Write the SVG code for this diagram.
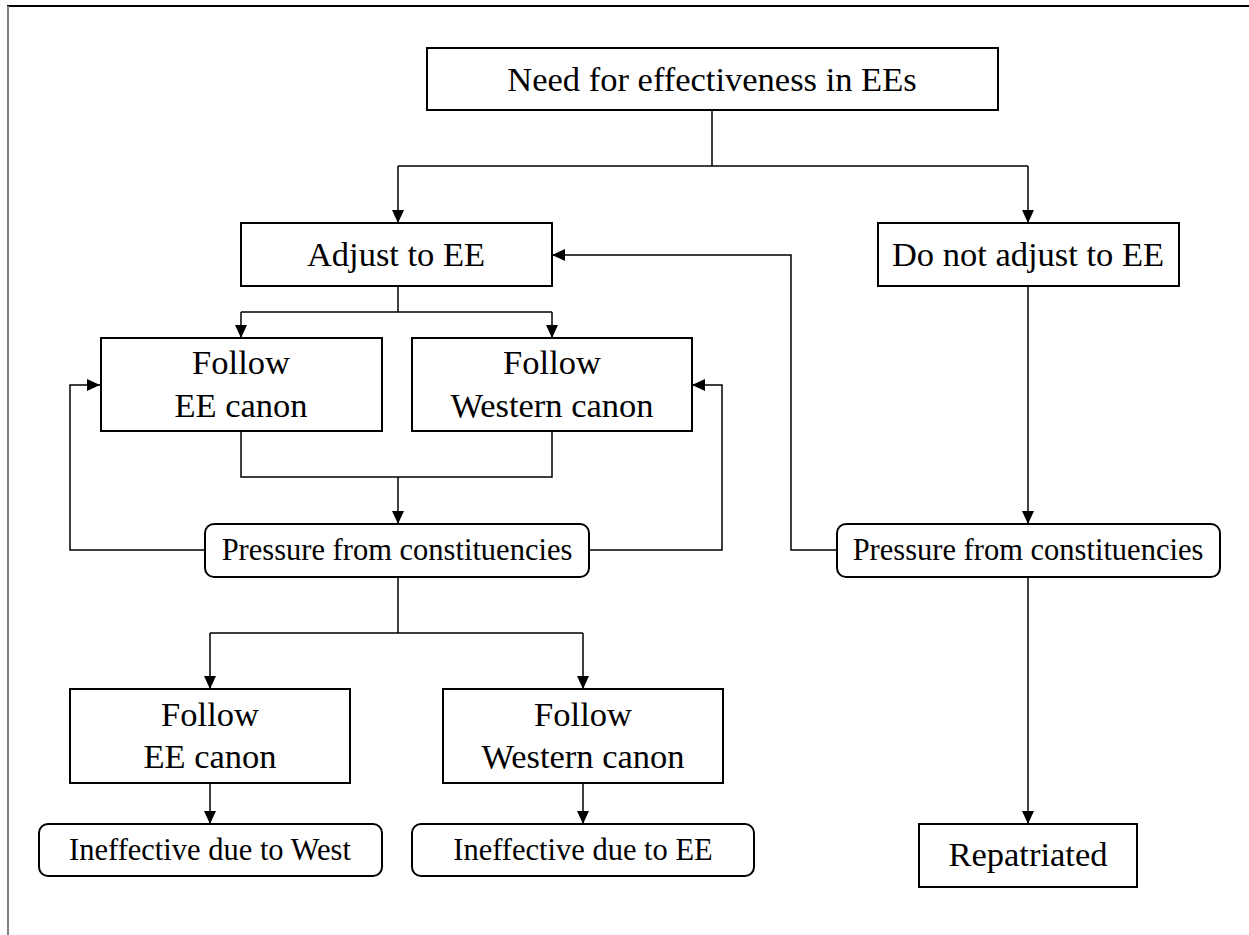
<svg xmlns="http://www.w3.org/2000/svg" width="1249" height="935" viewBox="0 0 1249 935" font-family="Liberation Serif, Times New Roman, serif">
<style>
.box{fill:#fff;stroke:#000;stroke-width:2}
.t{fill:#000;text-anchor:middle}
.big{font-size:34.5px}
.small{font-size:30.5px}
.c{fill:none;stroke:#000;stroke-width:1.5}
.a{marker-end:url(#ah)}
</style>
<defs>
<marker id="ah" markerUnits="userSpaceOnUse" markerWidth="14" markerHeight="12" refX="13" refY="6" orient="auto">
<path d="M0,0 L13,6 L0,12 Z" fill="#000"/>
</marker>
</defs>
<rect width="1249" height="935" fill="#fff"/>
<g id="frame">
<line x1="7" y1="6" x2="1249" y2="6" stroke="#000" stroke-width="2"/>
<line x1="8" y1="6" x2="8" y2="935" stroke="#808080" stroke-width="2"/>
</g>
<g id="connectors">
<path class="c" d="M712,110 V166 M398,166 H1028"/>
<path class="c a" d="M398,166 V223"/>
<path class="c a" d="M1028,166 V223"/>
<path class="c" d="M398,286 V312 M241,312 H552"/>
<path class="c a" d="M241,312 V338"/>
<path class="c a" d="M552,312 V338"/>
<path class="c" d="M241,431 V477 H552 V431"/>
<path class="c a" d="M398,477 V524"/>
<path class="c a" d="M205,550 H70 V385 H100"/>
<path class="c a" d="M589,550 H722 V385 H692"/>
<path class="c" d="M398,577 V633 M210,633 H583"/>
<path class="c a" d="M210,633 V689"/>
<path class="c a" d="M583,633 V689"/>
<path class="c a" d="M210,783 V824"/>
<path class="c a" d="M583,783 V824"/>
<path class="c a" d="M1028,286 V524"/>
<path class="c a" d="M837,550 H791 V255 H552"/>
<path class="c a" d="M1028,577 V824"/>
</g>
<g id="need">
<rect class="box" x="427" y="48" width="571" height="62"/>
<text class="t big" x="712" y="91">Need for effectiveness in EEs</text>
</g>
<g id="adjust">
<rect class="box" x="241" y="223" width="311" height="63"/>
<text class="t big" x="396" y="266">Adjust to EE</text>
</g>
<g id="notadjust">
<rect class="box" x="878" y="223" width="301" height="63"/>
<text class="t big" x="1028" y="266">Do not adjust to EE</text>
</g>
<g id="followEE1">
<rect class="box" x="101" y="338" width="281" height="93"/>
<text class="t big" x="241" y="374">Follow</text>
<text class="t big" x="241" y="417">EE canon</text>
</g>
<g id="followW1">
<rect class="box" x="412" y="338" width="280" height="93"/>
<text class="t big" x="552" y="374">Follow</text>
<text class="t big" x="552" y="417">Western canon</text>
</g>
<g id="pressure1">
<rect class="box" x="205" y="524" width="384" height="53" rx="9"/>
<text class="t small" x="397" y="560">Pressure from constituencies</text>
</g>
<g id="pressure2">
<rect class="box" x="837" y="524" width="383" height="53" rx="9"/>
<text class="t small" x="1028" y="560">Pressure from constituencies</text>
</g>
<g id="followEE2">
<rect class="box" x="70" y="689" width="280" height="94"/>
<text class="t big" x="210" y="726">Follow</text>
<text class="t big" x="210" y="768">EE canon</text>
</g>
<g id="followW2">
<rect class="box" x="443" y="689" width="280" height="94"/>
<text class="t big" x="583" y="726">Follow</text>
<text class="t big" x="583" y="768">Western canon</text>
</g>
<g id="ineffW">
<rect class="box" x="39" y="824" width="343" height="52" rx="9"/>
<text class="t small" x="210" y="860">Ineffective due to West</text>
</g>
<g id="ineffEE">
<rect class="box" x="412" y="824" width="342" height="52" rx="9"/>
<text class="t small" x="583" y="860">Ineffective due to EE</text>
</g>
<g id="repatriated">
<rect class="box" x="919" y="824" width="218" height="63"/>
<text class="t big" x="1028" y="866">Repatriated</text>
</g>
</svg>
